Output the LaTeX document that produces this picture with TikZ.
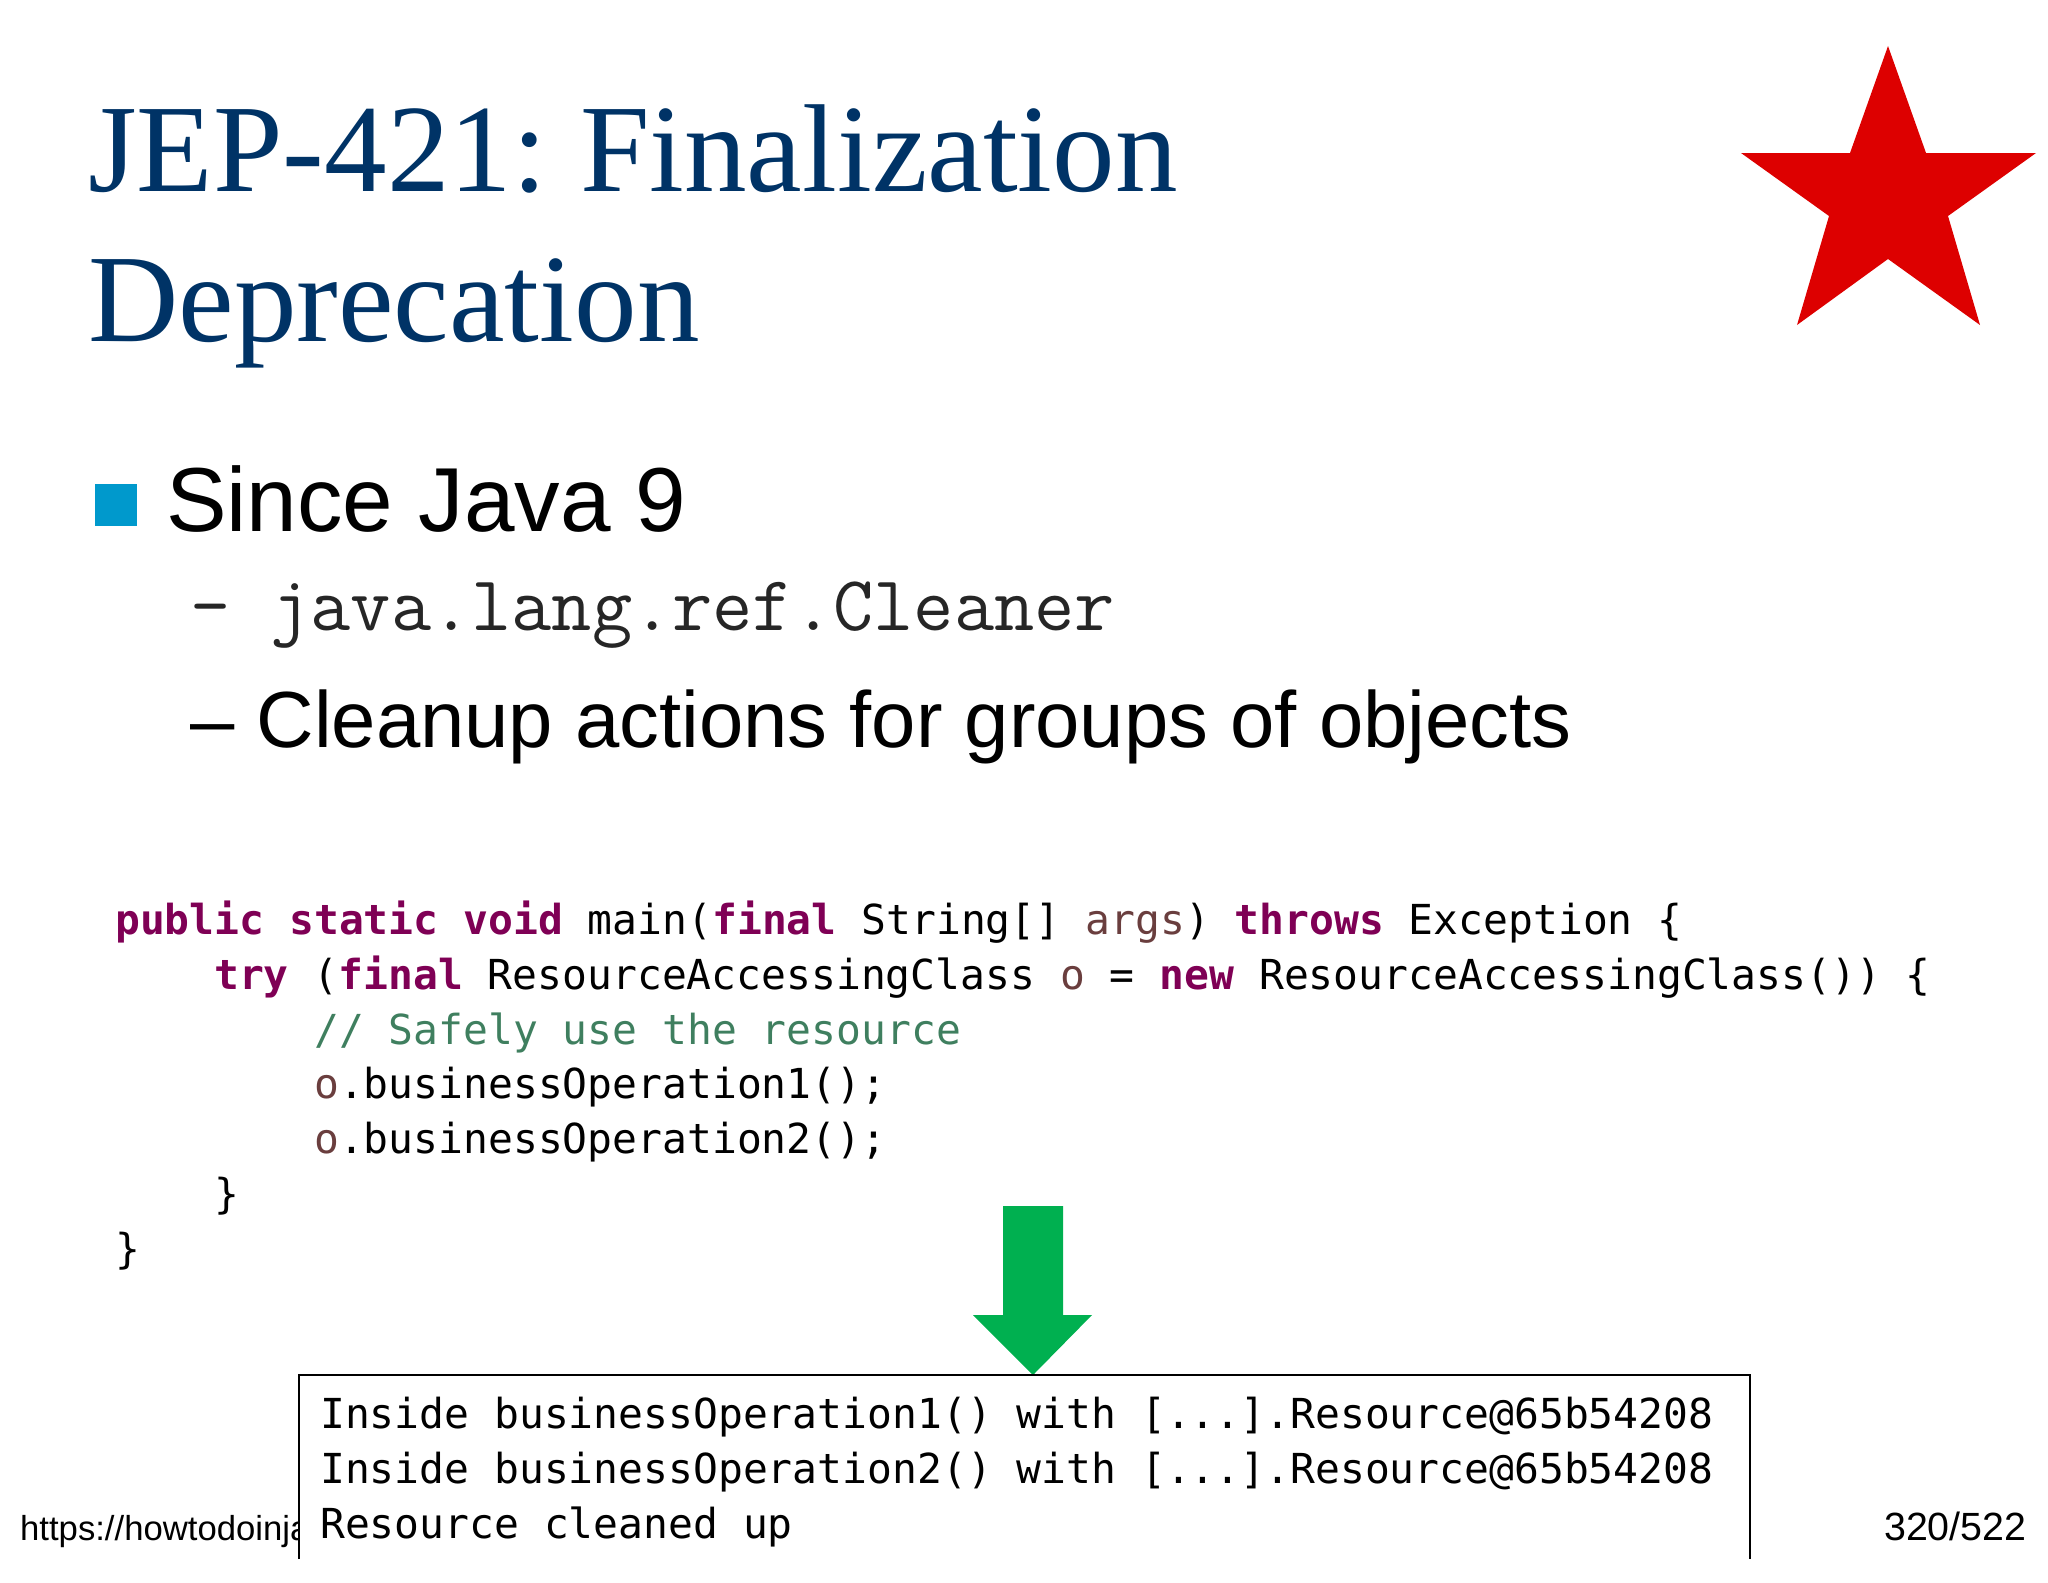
\documentclass[tikz,border=0pt]{standalone}
\usepackage{fontspec}
\setmainfont{Liberation Sans}
\newfontfamily\seriff{Liberation Serif}
\newfontfamily\monof{DejaVu Sans Mono}
\definecolor{titleblue}{HTML}{003366}
\definecolor{kw}{HTML}{7F0055}
\definecolor{var}{HTML}{6A3E3E}
\definecolor{cmt}{HTML}{3F7F5F}
\definecolor{bul}{HTML}{0099CC}
\definecolor{starred}{HTML}{DD0000}
\definecolor{arrowgreen}{HTML}{00B050}
\newcommand{\K}[1]{\textcolor{kw}{\bfseries #1}}
\newcommand{\V}[1]{\textcolor{var}{#1}}
\tikzset{
 px/.style={x=0.0375cm,y=-0.0375cm},
 ttl/.style={anchor=base west,inner sep=0,font=\seriff\fontsize{133.5}{133.5}\selectfont,text=titleblue},
 codeline/.style={anchor=base west,inner sep=0,font=\monof\fontsize{44.1}{44.1}\selectfont},
 bodytext/.style={anchor=base west,inner sep=0},
 foot/.style={anchor=base west,inner sep=0}
}
\begin{document}
\begin{tikzpicture}[px]
\useasboundingbox (0,0) rectangle (2048,1582);
\node[ttl] (t1) at (88,191) {JEP-421:\hspace{-9pt} Finalization};
\node[ttl] (t2) at (88,341) {Deprecation};
\fill[starred] (1888,46) -- (1926,153) -- (2036,153) -- (1948,216) -- (1980,325) -- (1888,259) -- (1797,325) -- (1829,216) -- (1741,153) -- (1850,153) -- cycle;
\fill[bul] (95,484) rectangle (137,526);
\node[bodytext,font=\fontsize{97}{97}\selectfont] (b1) at (166,531) {Since Java 9};
\node[bodytext,font=\ttfamily\fontsize{83.3}{83.3}\selectfont,text=black!85] (b2) at (190,630) {- java.lang.ref.Cleaner};
\node[bodytext,font=\fontsize{85}{85}\selectfont] (b3) at (190,747) {– Cleanup actions for groups of objects};
\node[codeline] (c1) at (115,934) {\K{public static void} main(\K{final} String[] \V{args}) \K{throws} Exception \{};
\node[codeline] (c2) at (214,989) {\K{try} (\K{final} ResourceAccessingClass \V{o} = \K{new} ResourceAccessingClass()) \{};
\node[codeline] (c3) at (314,1044) {\textcolor{cmt}{// Safely use the resource}};
\node[codeline] (c4) at (314,1098) {\V{o}.businessOperation1();};
\node[codeline] (c5) at (314,1153) {\V{o}.businessOperation2();};
\node[codeline] (c6) at (214,1208) {\}};
\node[codeline] (c7) at (115,1263) {\}};
\fill[arrowgreen] (1003,1206) -- (1063,1206) -- (1063,1315) -- (1092,1315) -- (1033,1375) -- (973,1315) -- (1003,1315) -- cycle;
\node[foot,font=\fontsize{37}{37}\selectfont] (f1) at (20,1540) {https://howtodoinja};
\node[foot,font=\fontsize{42}{42}\selectfont] (f2) at (1884,1540) {320/522};
\fill[white] (299,1375) rectangle (1750,1559);
\draw[line width=1.5pt] (299,1559) -- (299,1375) -- (1750,1375) -- (1750,1559);
\node[codeline] (o1) at (320,1428) {Inside businessOperation1() with [...].Resource@65b54208};
\node[codeline] (o2) at (320,1483) {Inside businessOperation2() with [...].Resource@65b54208};
\node[codeline] (o3) at (320,1538) {Resource cleaned up};
\end{tikzpicture}
\end{document}
